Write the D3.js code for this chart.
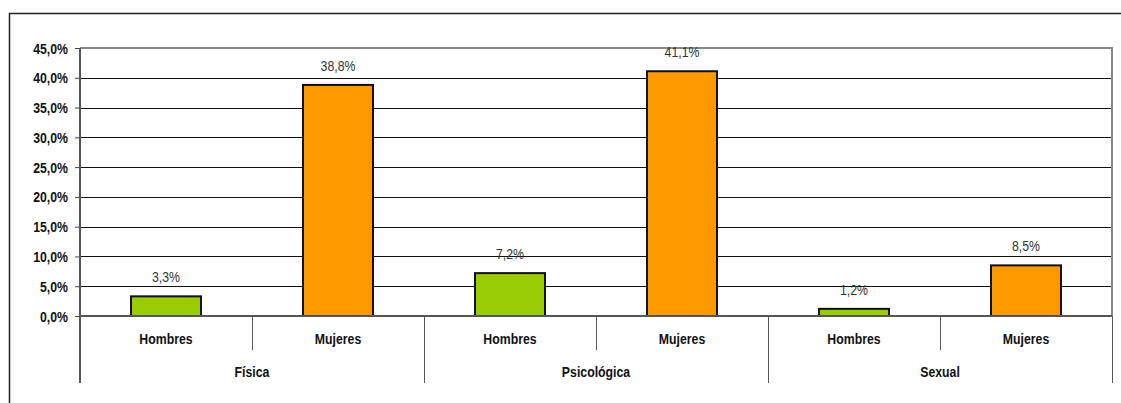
<!DOCTYPE html>
<html>
<head>
<meta charset="utf-8">
<script src="https://cdn.jsdelivr.net/npm/d3@7"></script>
<style>
  html, body { margin: 0; padding: 0; background: #fff; }
  svg { display: block; font-family: "Liberation Sans", Arial, sans-serif; }
</style>
</head>
<body>
<svg id="chart" width="1121" height="403"></svg>
<script>
// Violence types, sexes and percentages
const groups = ["Física", "Psicológica", "Sexual"];
const sexes = ["Hombres", "Mujeres"];
const hombres = [3.3, 7.2, 1.2];
const mujeres = [38.8, 41.1, 8.5];
const yTicks = [0, 5, 10, 15, 20, 25, 30, 35, 40, 45];

const colors = { Hombres: "#99CC00", Mujeres: "#FF9900" };

const rows = [];
groups.forEach((g, i) => {
  sexes.forEach(s => {
    const v = s === "Hombres" ? hombres[i] : mujeres[i];
    rows.push({ group: g, sex: s, key: g + "|" + s, value: v });
  });
});

const fmt = v => v.toFixed(1).replace(".", ",") + "%";
const FONT = "'Liberation Sans', Arial, sans-serif";
const NARROW = 0.82;   // condensed lettering
const FS = 15;

const svg = d3.select("#chart");
const plot = { left: 80, right: 1112, top: 48, bottom: 316 };

// Outer frame (top and left edges)
svg.append("path")
  .attr("d", "M9.5,403V13.5H1121")
  .attr("fill", "none").attr("stroke", "#222").attr("stroke-width", 1.5);

const x = d3.scaleBand()
  .domain(rows.map(d => d.key))
  .range([plot.left, plot.right])
  .paddingInner(0.593)
  .paddingOuter(0.2965);

const xSlot = d3.scaleBand()
  .domain(rows.map(d => d.key))
  .range([plot.left, plot.right]);

const xGroup = d3.scaleBand()
  .domain(groups)
  .range([plot.left, plot.right]);

const y = d3.scaleLinear().domain([0, 45]).range([plot.bottom, plot.top]);

// Condensed text placed at (px, py)
function narrowText(sel, px, py) {
  return sel
    .attr("x", 0).attr("y", 0)
    .attr("transform", (d, i) => `translate(${px(d, i)},${py(d, i)}) scale(${NARROW},1)`)
    .attr("font-family", FONT)
    .attr("font-size", FS);
}

// Gridlines
svg.append("g").selectAll("line")
  .data(yTicks.filter(t => t > 0 && t < 45))
  .join("line")
  .attr("x1", plot.left).attr("x2", plot.right)
  .attr("y1", d => Math.round(y(d)) + 0.5).attr("y2", d => Math.round(y(d)) + 0.5)
  .attr("stroke", "#111").attr("stroke-width", 1);

// Plot frame top and right
svg.append("path")
  .attr("d", `M${plot.left},${plot.top}H${plot.right}V${plot.bottom}`)
  .attr("fill", "none").attr("stroke", "#888").attr("stroke-width", 2);

// Y axis
const yAxis = d3.axisLeft(y).tickValues(yTicks).tickSize(5).tickPadding(7).tickFormat(fmt);
const ga = svg.append("g").attr("transform", `translate(${plot.left},0)`).call(yAxis);
ga.select(".domain").remove();
ga.selectAll(".tick line").attr("stroke", "#444");
ga.selectAll(".tick text")
  .attr("x", 0).attr("dy", null).attr("y", 5)
  .attr("transform", `translate(-12,0) scale(${NARROW},1)`)
  .attr("font-family", FONT)
  .attr("font-size", FS).attr("font-weight", "bold").attr("fill", "#111");

// Bars
svg.append("g").selectAll("rect")
  .data(rows)
  .join("rect")
  .attr("x", d => x(d.key))
  .attr("width", x.bandwidth())
  .attr("y", d => y(d.value))
  .attr("height", d => y(0) - y(d.value))
  .attr("fill", d => colors[d.sex])
  .attr("stroke", "#111").attr("stroke-width", 2);

// Value labels
svg.append("g").selectAll("text")
  .data(rows)
  .join("text")
  .call(narrowText, d => x(d.key) + x.bandwidth() / 2, d => y(d.value) - 14)
  .attr("text-anchor", "middle")
  .attr("fill", "#333")
  .text(d => fmt(d.value));

// Left axis line and category axis
svg.append("line")
  .attr("x1", plot.left).attr("x2", plot.left)
  .attr("y1", plot.top).attr("y2", 383)
  .attr("stroke", "#555").attr("stroke-width", 2);
svg.append("line")
  .attr("x1", plot.left).attr("x2", plot.right)
  .attr("y1", plot.bottom).attr("y2", plot.bottom)
  .attr("stroke", "#555").attr("stroke-width", 2);

// Short dividers between sexes inside a group
svg.append("g").selectAll("line")
  .data(groups)
  .join("line")
  .attr("x1", g => xGroup(g) + xGroup.bandwidth() / 2 + 0.5)
  .attr("x2", g => xGroup(g) + xGroup.bandwidth() / 2 + 0.5)
  .attr("y1", plot.bottom).attr("y2", 350)
  .attr("stroke", "#555").attr("stroke-width", 1);

// Long dividers between groups
svg.append("g").selectAll("line")
  .data(groups.slice(1).map(g => xGroup(g)).concat([plot.right]))
  .join("line")
  .attr("x1", d => d + 0.5).attr("x2", d => d + 0.5)
  .attr("y1", plot.bottom).attr("y2", 383)
  .attr("stroke", "#555").attr("stroke-width", 1);

// Sex labels
svg.append("g").selectAll("text")
  .data(rows)
  .join("text")
  .call(narrowText, d => xSlot(d.key) + xSlot.bandwidth() / 2, () => 344)
  .attr("text-anchor", "middle")
  .attr("font-weight", "bold").attr("fill", "#111")
  .text(d => d.sex);

// Group labels
svg.append("g").selectAll("text")
  .data(groups)
  .join("text")
  .call(narrowText, g => xGroup(g) + xGroup.bandwidth() / 2, () => 377)
  .attr("text-anchor", "middle")
  .attr("font-weight", "bold").attr("fill", "#111")
  .text(g => g);
</script>
</body>
</html>
